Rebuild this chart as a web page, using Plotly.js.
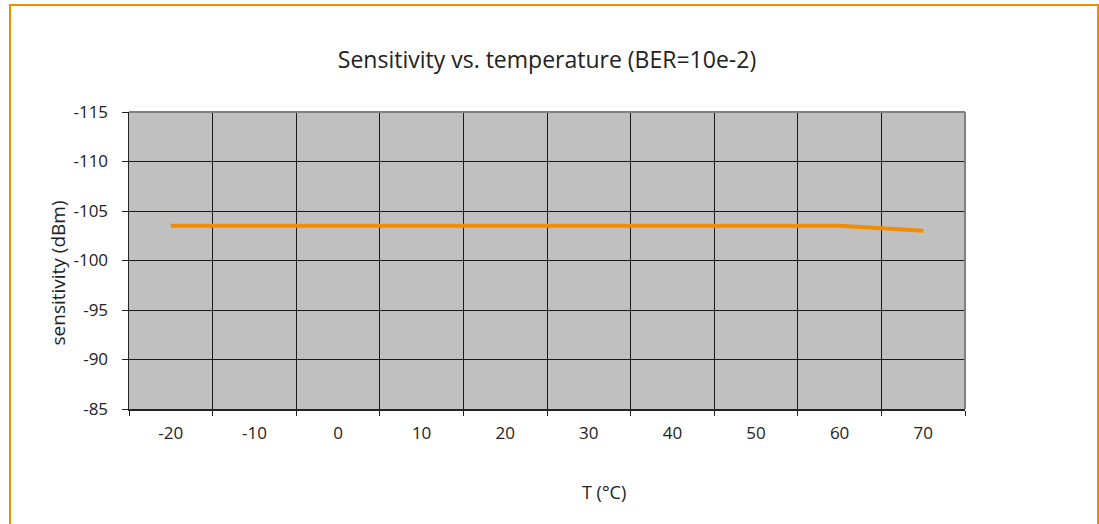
<!DOCTYPE html>
<html>
<head>
<meta charset="utf-8">
<script src="https://cdn.plot.ly/plotly-3.0.1.min.js"></script>
<style>
html,body{margin:0;padding:0;background:#fff;overflow:hidden;}
#chart{width:1099px;height:524px;position:absolute;left:0;top:0;}
#frame{position:absolute;left:9px;top:4px;width:1086px;height:600px;border:2px solid #F28C00;pointer-events:none;}
</style>
</head>
<body>
<div id="chart"></div>
<div id="frame"></div>
<script>
const temperatures = ['-20','-10','0','10','20','30','40','50','60','70'];
const sensitivity = [-103.5,-103.5,-103.5,-103.5,-103.5,-103.5,-103.5,-103.5,-103.5,-103.0];
const yTickValues = [-115,-110,-105,-100,-95,-90,-85];
const yTickLabels = yTickValues.map(String);

const trace = {
  x: temperatures,
  y: sensitivity,
  type: 'scatter',
  mode: 'lines',
  line: {color: '#F28C00', width: 4},
  hoverinfo: 'skip'
};

const layout = {
  width: 1099,
  height: 524,
  margin: {l: 129, r: 134, t: 112, b: 115},
  paper_bgcolor: '#ffffff',
  plot_bgcolor: '#c0c0c0',
  showlegend: false,
  font: {family: 'Open Sans, sans-serif', color: '#222'},
  title: {
    text: 'Sensitivity vs. temperature (BER=10e-2)',
    font: {family: 'Open Sans, sans-serif', size: 23, color: '#222'},
    x: 0.5, xref: 'paper', xanchor: 'center',
    y: 1, yref: 'paper', yanchor: 'bottom', pad: {b: 44}
  },
  xaxis: {
    type: 'category',
    categoryorder: 'array',
    categoryarray: temperatures,
    tickson: 'boundaries',
    ticks: 'outside',
    ticklen: 5,
    tickcolor: '#222',
    showgrid: true,
    gridcolor: '#1a1a1a',
    gridwidth: 1,
    showline: true,
    linecolor: '#222',
    linewidth: 1.5,
    zeroline: false,
    tickfont: {size: 17, color: '#222'},
    ticklabelstandoff: 8,
    range: [-0.5, 9.5],
    fixedrange: true
  },
  yaxis: {
    range: [-85, -115],
    tickmode: 'array',
    tickvals: yTickValues,
    ticktext: yTickLabels,
    ticks: 'outside',
    ticklen: 6,
    tickcolor: '#222',
    showgrid: true,
    gridcolor: '#1a1a1a',
    gridwidth: 1,
    showline: true,
    linecolor: '#222',
    linewidth: 1.5,
    zeroline: false,
    tickfont: {size: 17, color: '#222'},
    ticklabelstandoff: 10,
    fixedrange: true
  },
  shapes: [
    {type: 'line', xref: 'paper', yref: 'paper', x0: 0, x1: 1, y0: 1, y1: 1, line: {color: '#808080', width: 2}},
    {type: 'line', xref: 'paper', yref: 'paper', x0: 1, x1: 1, y0: 0, y1: 1, line: {color: '#808080', width: 2}}
  ],
  annotations: [
    {text: 'T (°C)', xref: 'paper', yref: 'paper', x: 0.568, y: 0, yshift: -83, xanchor: 'center', yanchor: 'middle', showarrow: false, font: {size: 18, color: '#222'}},
    {text: 'sensitivity (dBm)', xref: 'paper', yref: 'paper', x: 0, y: 0.5, xshift: -72, yshift: -13, xanchor: 'center', yanchor: 'middle', textangle: -90, showarrow: false, font: {size: 19, color: '#222'}}
  ]
};

Plotly.newPlot('chart', [trace], layout, {displayModeBar: false, staticPlot: true});
</script>
</body>
</html>
